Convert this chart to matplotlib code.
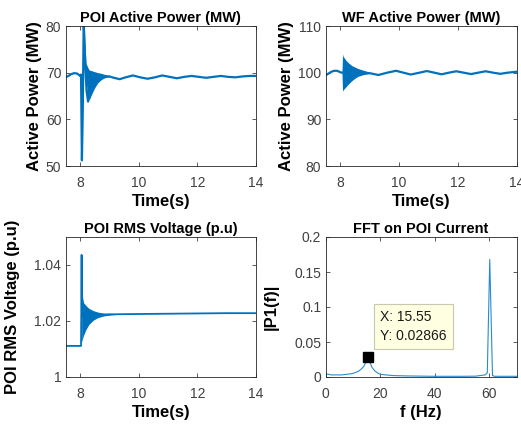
import matplotlib
matplotlib.use("Agg")
import matplotlib.pyplot as plt

plt.rcParams['font.family'] = ['Liberation Sans', 'DejaVu Sans']

# --- POI active power (MW) ---
poi_t = [7.5, 7.6, 7.7, 7.8, 7.9, 8.0, 8.03, 8.06, 8.09, 8.12, 8.14, 8.18, 8.22, 8.27, 8.3,
         8.45, 8.6, 8.8, 9.0, 9.15, 9.35, 9.55, 9.8, 10.05, 10.3, 10.55, 10.8, 11.05, 11.3,
         11.55, 11.8, 12.05, 12.3, 12.55, 12.8, 13.05, 13.3, 13.55, 13.8, 14.0]
poi_p = [69.0, 69.3, 69.7, 69.9, 69.8, 69.3, 69.6, 51.2, 62.0, 80.5, 78.0, 71.0, 66.0, 63.8, 66.5,
         68.2, 68.9, 69.2, 69.2, 68.9, 68.6, 69.0, 69.4, 69.0, 68.7, 69.0, 69.4, 69.1, 68.8,
         69.1, 69.3, 69.1, 68.9, 69.1, 69.3, 69.1, 69.0, 69.2, 69.3, 69.3]
# oscillating band (upper / lower envelope)
poi_band_t = [8.1, 8.13, 8.2, 8.3, 8.4, 8.5, 8.6, 8.7, 8.8, 8.9, 9.0]
poi_band_hi = [80.0, 80.0, 72.0, 70.6, 70.4, 70.2, 70.0, 69.9, 69.7, 69.5, 69.3]
poi_band_lo = [62.0, 76.0, 68.0, 64.0, 65.5, 66.8, 67.8, 68.4, 68.8, 69.0, 69.1]

# --- WF active power (MW) ---
wf_t = [7.5, 7.6, 7.7, 7.8, 7.9, 8.0, 8.06, 8.3, 8.6, 9.0, 9.3, 9.6, 9.9, 10.15, 10.4,
        10.7, 10.95, 11.2, 11.45, 11.7, 11.95, 12.2, 12.45, 12.7, 12.95, 13.2, 13.45,
        13.7, 14.0]
wf_p = [99.4, 99.8, 100.2, 100.4, 100.4, 100.1, 100.0, 99.9, 100.0, 99.9, 99.5, 100.0,
        100.4, 100.0, 99.6, 100.0, 100.35, 100.0, 99.65, 100.0, 100.3, 100.0, 99.7, 100.0,
        100.3, 100.0, 99.75, 100.0, 100.2]
wf_band_t = [8.06, 8.08, 8.1, 8.2, 8.3, 8.4, 8.5, 8.6, 8.7, 8.8, 8.9, 9.0]
wf_band_hi = [100.0, 104.0, 103.5, 102.6, 102.0, 101.5, 101.2, 100.9, 100.7, 100.5, 100.3, 100.1]
wf_band_lo = [100.0, 96.0, 96.3, 97.0, 97.7, 98.3, 98.8, 99.2, 99.4, 99.6, 99.7, 99.8]

# --- POI RMS voltage (p.u) ---
v_t = [7.5, 8.03, 8.04, 8.05, 8.06, 8.1, 8.3, 8.6, 9.0, 9.2, 10.0, 11.0, 12.0, 13.0, 14.0]
v_u = [1.0111, 1.0111, 1.0250, 1.0436, 1.0220, 1.0215, 1.0220, 1.0222, 1.0224, 1.0224,
       1.0225, 1.0226, 1.0227, 1.0228, 1.0228]
v_band_t = [8.05, 8.06, 8.09, 8.12, 8.2, 8.3, 8.45, 8.6, 8.8, 9.0, 9.2]
v_band_hi = [1.0310, 1.0310, 1.0280, 1.0265, 1.0255, 1.0245, 1.0237, 1.0232, 1.0228, 1.0226, 1.0225]
v_band_lo = [1.0125, 1.0128, 1.0140, 1.0150, 1.0170, 1.0188, 1.0203, 1.0212, 1.0218, 1.0221, 1.0223]

# --- FFT on POI current ---
fft_f = [0, 0.5, 1, 2, 4, 6, 8, 10, 12, 13, 14, 14.8, 15.55, 16.3, 17, 18, 19, 20, 22, 25,
         30, 40, 50, 55, 58.5, 59.3, 60.2, 61.2, 62, 65, 70]
fft_p = [0.001, 0.004, 0.004, 0.003, 0.003, 0.003, 0.004, 0.005, 0.008, 0.011, 0.015, 0.021,
         0.02866, 0.021, 0.014, 0.009, 0.006, 0.004, 0.003, 0.002, 0.0015, 0.001, 0.001,
         0.0012, 0.003, 0.006, 0.168, 0.002, 0.001, 0.001, 0.001]
tip_x = 15.55
tip_y = 0.02866

blue = '#0072BD'
gray = '#404040'

fig = plt.figure(figsize=(5.21, 4.25), dpi=100)
W, H = 521, 425
def add_ax(x0, y0, x1, y1):
    return fig.add_axes([x0 / W, 1 - y1 / H, (x1 - x0) / W, (y1 - y0) / H])

ax1 = add_ax(65.5, 26, 256, 166)
ax2 = add_ax(325.5, 26, 516.5, 166)
ax3 = add_ax(65.5, 237, 256, 377)
ax4 = add_ax(325.5, 237, 516.5, 377)

ax1.fill_between(poi_band_t, poi_band_lo, poi_band_hi, color=blue, lw=0)
ax1.plot(poi_t, poi_p, color=blue, lw=1.6)
ax1.set_xlim(7.5, 14)
ax1.set_ylim(50, 80)
ax1.set_yticks([50, 60, 70, 80])
ax1.set_title('POI Active Power (MW)')
ax1.set_ylabel('Active Power (MW)')

ax2.fill_between(wf_band_t, wf_band_lo, wf_band_hi, color=blue, lw=0)
ax2.plot(wf_t, wf_p, color=blue, lw=1.6)
ax2.set_xlim(7.5, 14)
ax2.set_ylim(80, 110)
ax2.set_yticks([80, 90, 100, 110])
ax2.set_title('WF Active Power (MW)')
ax2.set_ylabel('Active Power (MW)')

ax3.fill_between(v_band_t, v_band_lo, v_band_hi, color=blue, lw=0)
ax3.plot(v_t, v_u, color=blue, lw=1.3)
ax3.set_xlim(7.5, 14)
ax3.set_ylim(1.0, 1.05)
ax3.set_yticks([1.0, 1.02, 1.04])
ax3.set_yticklabels(['1', '1.02', '1.04'])
ax3.set_title('POI RMS Voltage (p.u)')
ax3.set_ylabel('POI RMS Voltage (p.u)')

for ax in (ax1, ax2, ax3):
    ax.set_xticks([8, 10, 12, 14])
    ax.set_xlabel('Time(s)')

ax4.plot(fft_f, fft_p, color='#2a8ad0', lw=0.8)
ax4.plot([tip_x], [tip_y], marker='s', ms=6.5, color='black', ls='none')
ax4.text(20, 0.096, 'X: 15.55\nY: 0.02866', fontsize=10, color='#1a1a1a',
         va='top', ha='left', linespacing=1.45,
         bbox=dict(boxstyle='square,pad=0.45', fc='#FFFFE1', ec='#c8c8b0', lw=0.8))
ax4.set_xlim(0, 70)
ax4.set_ylim(0, 0.2)
ax4.set_xticks([0, 20, 40, 60])
ax4.set_yticks([0, 0.05, 0.1, 0.15, 0.2])
ax4.set_yticklabels(['0', '0.05', '0.1', '0.15', '0.2'])
ax4.set_title('FFT on POI Current')
ax4.set_xlabel('f (Hz)')
ax4.set_ylabel('|P1(f)|')

for ax in (ax1, ax2, ax3, ax4):
    ax.set_title(ax.get_title(), fontsize=10.5, fontweight='bold', pad=3)
    ax.xaxis.label.set_fontsize(12)
    ax.xaxis.label.set_fontweight('bold')
    ax.yaxis.label.set_fontsize(12)
    ax.yaxis.label.set_fontweight('bold')
    ax.xaxis.labelpad = 3
    ax.yaxis.labelpad = 3
    ax.tick_params(direction='in', length=3, width=0.6, colors=gray, labelsize=10,
                   top=True, right=True, labelcolor=gray)
    ax.tick_params(axis='x', pad=7)
    ax.tick_params(axis='y', pad=3)
    for s in ax.spines.values():
        s.set_color('#262626')
        s.set_linewidth(0.6)

ax3.yaxis.labelpad = 10
ax4.yaxis.labelpad = 11

fig.savefig('out.png', dpi=100)
